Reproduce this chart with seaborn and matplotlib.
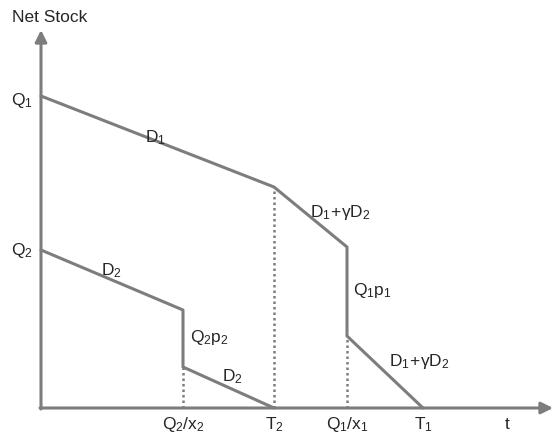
import numpy as np
import pandas as pd
import matplotlib
matplotlib.use("Agg")
import matplotlib.pyplot as plt
import seaborn as sns

sns.set_style("white")
plt.rcParams["font.family"] = ["Liberation Sans", "DejaVu Sans"]
plt.rcParams["mathtext.fontset"] = "custom"
plt.rcParams["mathtext.rm"] = "Liberation Sans"
plt.rcParams["mathtext.it"] = "Liberation Sans"

# 时间轴上的关键点
t_q2x2 = 142
t_T2 = 233
t_q1x1 = 306
t_T1 = 382

# 产品1库存曲线
t1 = [0, t_T2, t_q1x1, t_q1x1, t_T1]
stock1 = [312, 221, 161, 72, 0]

# 产品2库存曲线
t2 = [0, t_q2x2, t_q2x2, t_T2]
stock2 = [158, 98, 41, 0]

tick_pos = [t_q2x2, t_T2, t_q1x1, t_T1, 466]
tick_labels = [r"$\mathregular{Q_2/x_2}$", r"$\mathregular{T_2}$", r"$\mathregular{Q_1/x_1}$",
               r"$\mathregular{T_1}$", "t"]

seg_labels = [r"$\mathregular{D_1}$", r"$\mathregular{D_1\!+\!γD_2}$", r"$\mathregular{Q_1p_1}$",
              r"$\mathregular{D_1\!+\!γD_2}$", r"$\mathregular{D_2}$", r"$\mathregular{Q_2p_2}$",
              r"$\mathregular{D_2}$"]
seg_xy = [(114, 271), (299, 197), (331, 118), (378, 47), (70, 138), (168, 71), (191, 32)]

gray = "#7d7d7d"

fig = plt.figure(figsize=(5.54, 4.39), dpi=100)
ax = fig.add_axes([0, 0, 1, 1])

df1 = pd.DataFrame({"t": t1, "stock": stock1})
df2 = pd.DataFrame({"t": t2, "stock": stock2})
sns.lineplot(data=df1, x="t", y="stock", sort=False, estimator=None, color=gray, lw=2.2, ax=ax)
sns.lineplot(data=df2, x="t", y="stock", sort=False, estimator=None, color=gray, lw=2.2, ax=ax)

# 虚线
dot = dict(color=gray, ls=(0, (1, 1.2)), lw=1.8)
ax.plot([t_T2, t_T2], [0, stock1[1]], **dot)
ax.plot([t_q1x1, t_q1x1], [0, stock1[3]], **dot)
ax.plot([t_q2x2, t_q2x2], [0, stock2[2]], **dot)

# 坐标轴箭头
ax.annotate("", xy=(512, 0), xytext=(-1, 0),
            arrowprops=dict(arrowstyle="-|>,head_length=0.7,head_width=0.35", color=gray, lw=2.2,
                            shrinkA=0, shrinkB=0))
ax.annotate("", xy=(0, 378), xytext=(0, -1),
            arrowprops=dict(arrowstyle="-|>,head_length=0.7,head_width=0.35", color=gray, lw=2.2,
                            shrinkA=0, shrinkB=0))

fs = 12.5
ax.text(9, 392, "Net Stock", fontsize=fs, ha="center", va="center")
ax.text(-19, 309, r"$\mathregular{Q_1}$", fontsize=fs, ha="center", va="center")
ax.text(-19, 158, r"$\mathregular{Q_2}$", fontsize=fs, ha="center", va="center")
for lab, (x, y) in zip(seg_labels, seg_xy):
    ax.text(x, y, lab, fontsize=fs, ha="center", va="center")
for x, lab in zip(tick_pos, tick_labels):
    ax.text(x, -16, lab, fontsize=fs, ha="center", va="center")

ax.set_xlim(-41, 513)
ax.set_ylim(-30, 409)
ax.axis("off")

plt.savefig("out.png", dpi=100)
plt.close()
